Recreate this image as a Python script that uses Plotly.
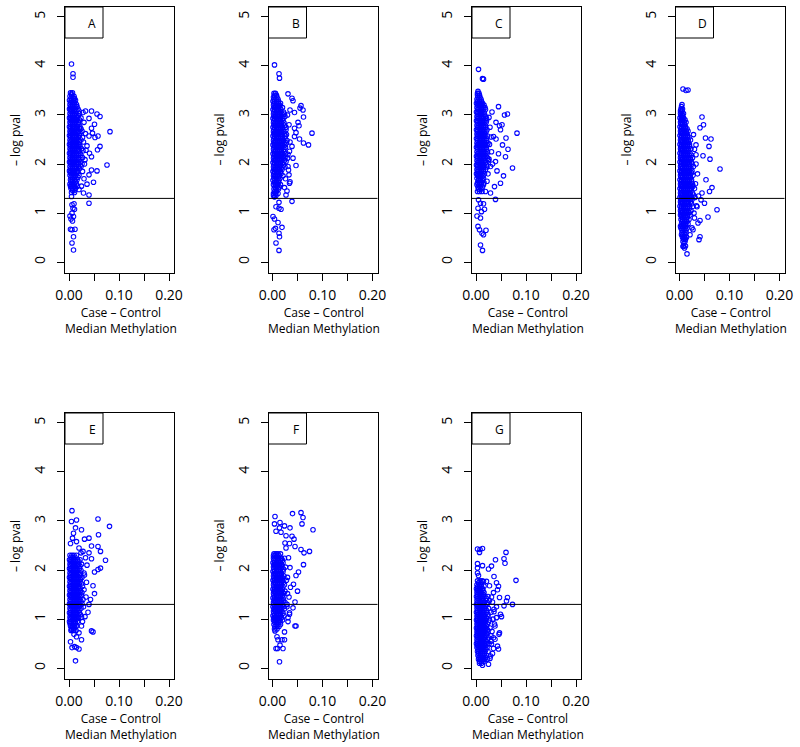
import plotly.graph_objects as go

# ---- data ----
panel_labels = ["A", "B", "C", "D", "E", "F", "G"]

# scattered points (outside the dense core)
a_out_x = [0.005, 0.008, 0.008, 0.033, 0.045, 0.056, 0.062, 0.051, 0.040, 0.082,
           0.045, 0.047, 0.058, 0.052, 0.040, 0.036, 0.062, 0.057, 0.041, 0.045,
           0.032, 0.076, 0.045, 0.056, 0.040, 0.049, 0.036, 0.029, 0.040, 0.040,
           0.005, 0.006, 0.010, 0.008, 0.011, 0.006, 0.009, 0.002, 0.004, 0.007,
           0.003, 0.006, 0.012, 0.009, 0.006, 0.009,
           0.028, 0.030, 0.033, 0.029, 0.034, 0.031, 0.027, 0.030, 0.025, 0.020]
a_out_y = [4.04, 3.84, 3.77, 3.08, 3.08, 3.02, 2.97, 2.81, 2.93, 2.66,
           2.73, 2.63, 2.57, 2.54, 2.57, 2.37, 2.36, 2.29, 2.22, 2.15,
           2.09, 1.98, 1.88, 1.86, 1.78, 1.63, 1.59, 1.41, 1.37, 1.20,
           1.34, 1.17, 1.19, 1.10, 1.08, 1.00, 0.93, 0.94, 0.88, 0.84,
           0.67, 0.66, 0.67, 0.52, 0.39, 0.25,
           3.05, 2.85, 2.62, 2.45, 2.28, 2.00, 1.85, 1.70, 1.55, 1.48]

b_out_x = [0.004, 0.013, 0.014, 0.031, 0.039, 0.041, 0.035, 0.044, 0.057, 0.055,
           0.061, 0.062, 0.051, 0.053, 0.079, 0.044, 0.047, 0.054, 0.062, 0.072,
           0.044, 0.039, 0.034, 0.041, 0.047, 0.031, 0.033, 0.035, 0.034, 0.027,
           0.039, 0.004, 0.007, 0.013, 0.017, 0.013, 0.001, 0.004, 0.011, 0.006,
           0.019, 0.003, 0.013, 0.014, 0.007, 0.013,
           0.030, 0.033, 0.028, 0.035, 0.031, 0.027, 0.032, 0.026, 0.024, 0.029]
b_out_y = [4.02, 3.84, 3.75, 3.43, 3.34, 3.29, 3.10, 3.05, 3.19, 3.14,
           3.10, 2.96, 2.85, 2.78, 2.63, 2.73, 2.64, 2.51, 2.43, 2.39,
           2.56, 2.36, 2.26, 2.12, 1.97, 1.95, 1.78, 1.64, 1.61, 1.37,
           1.24, 1.34, 1.13, 1.10, 1.08, 1.22, 0.93, 0.88, 0.81, 0.69,
           0.71, 0.66, 0.59, 0.52, 0.39, 0.24,
           3.00, 2.80, 2.60, 2.45, 2.20, 2.05, 1.88, 1.70, 1.52, 1.45]

c_out_x = [0.005, 0.013, 0.015, 0.045, 0.057, 0.063, 0.032, 0.040, 0.047, 0.052,
           0.082, 0.049, 0.035, 0.040, 0.060, 0.053, 0.064, 0.045, 0.059, 0.073,
           0.055, 0.049, 0.039, 0.042, 0.037, 0.039, 0.029, 0.005, 0.009, 0.015,
           0.017, 0.004, 0.011, 0.002, 0.009, 0.004, 0.007, 0.020, 0.012, 0.015,
           0.009, 0.013,
           0.026, 0.028, 0.030, 0.027, 0.031, 0.026, 0.029, 0.024, 0.022, 0.033]
c_out_y = [3.93, 3.74, 3.73, 3.17, 3.00, 3.02, 3.06, 2.85, 2.78, 2.80,
           2.63, 2.70, 2.56, 2.51, 2.53, 2.39, 2.30, 2.21, 2.15, 1.92,
           1.76, 1.61, 2.05, 1.86, 1.54, 1.28, 1.41, 1.27, 1.20, 1.19,
           1.08, 1.10, 1.03, 0.94, 0.90, 0.73, 0.66, 0.65, 0.59, 0.56,
           0.35, 0.24,
           2.95, 2.75, 2.55, 2.40, 2.25, 2.10, 1.95, 1.80, 1.65, 2.00]

d_out_x = [0.007, 0.013, 0.017, 0.045, 0.048, 0.041, 0.052, 0.063, 0.033, 0.059,
           0.047, 0.033, 0.061, 0.081, 0.053, 0.065, 0.060, 0.045, 0.075, 0.057,
           0.041, 0.041, 0.039, 0.043, 0.050, 0.035, 0.030, 0.027, 0.021, 0.007,
           0.015, 0.010, 0.004, 0.002,
           0.030, 0.033, 0.036, 0.032, 0.038, 0.034, 0.029, 0.037, 0.025, 0.028]
d_out_y = [3.53, 3.50, 3.51, 2.96, 2.80, 2.74, 2.53, 2.51, 2.39, 2.36,
           2.17, 2.19, 2.10, 1.90, 1.68, 1.52, 1.44, 1.41, 1.07, 0.92,
           0.85, 0.52, 0.46, 1.27, 1.20, 1.13, 0.90, 0.66, 0.56, 0.32,
           0.17, 0.29, 0.56, 0.73,
           2.30, 2.00, 1.80, 1.60, 1.35, 1.15, 1.00, 0.80, 0.70, 2.60]

e_out_x = [0.006, 0.005, 0.015, 0.058, 0.081, 0.009, 0.013, 0.025, 0.003, 0.007,
           0.015, 0.031, 0.040, 0.059, 0.045, 0.058, 0.063, 0.073, 0.020, 0.028,
           0.040, 0.045, 0.051, 0.058, 0.063, 0.048, 0.051, 0.043, 0.040, 0.038,
           0.045, 0.048, 0.025, 0.020, 0.015, 0.005, 0.003, 0.006, 0.011, 0.020,
           0.025, 0.013, 0.015, 0.010,
           0.033, 0.036, 0.031, 0.035, 0.030, 0.034, 0.029, 0.032, 0.027, 0.024]
e_out_y = [3.21, 2.99, 3.02, 3.04, 2.89, 2.75, 2.86, 2.82, 2.54, 2.65,
           2.58, 2.63, 2.65, 2.72, 2.49, 2.48, 2.38, 2.20, 2.45, 2.38,
           2.35, 2.23, 1.96, 2.01, 2.04, 1.68, 1.52, 1.40, 1.30, 1.14,
           0.76, 0.74, 0.86, 0.72, 0.64, 0.79, 0.54, 0.42, 0.44, 0.39,
           0.58, 0.15, 0.42, 0.69,
           2.25, 2.10, 1.90, 1.75, 1.60, 1.45, 1.25, 1.05, 0.95, 2.35]

f_out_x = [0.005, 0.004, 0.015, 0.024, 0.014, 0.007, 0.017, 0.035, 0.040, 0.057,
           0.061, 0.059, 0.081, 0.027, 0.039, 0.043, 0.034, 0.045, 0.057, 0.063,
           0.074, 0.062, 0.052, 0.047, 0.050, 0.042, 0.045, 0.041, 0.045, 0.047,
           0.024, 0.005, 0.009, 0.011, 0.019, 0.024, 0.015, 0.007, 0.010, 0.021,
           0.014, 0.031, 0.034,
           0.032, 0.035, 0.030, 0.036, 0.033, 0.029, 0.034, 0.031, 0.027, 0.025]
f_out_y = [3.09, 2.94, 2.97, 2.90, 2.86, 2.79, 2.77, 2.86, 3.15, 3.17,
           3.07, 2.94, 2.82, 2.70, 2.69, 2.63, 2.54, 2.48, 2.42, 2.35,
           2.38, 2.11, 1.96, 1.89, 1.57, 1.71, 1.35, 1.23, 0.86, 0.86,
           0.74, 0.76, 0.64, 0.58, 0.58, 0.58, 0.47, 0.40, 0.40, 0.40,
           0.13, 1.03, 1.13,
           2.25, 2.05, 1.85, 1.65, 1.45, 1.30, 1.10, 0.95, 2.45, 2.55]

g_out_x = [0.003, 0.008, 0.007, 0.013, 0.060, 0.056, 0.058, 0.039, 0.031, 0.025,
           0.003, 0.013, 0.003, 0.003, 0.005, 0.036, 0.080, 0.015, 0.021, 0.041,
           0.045, 0.043, 0.016, 0.027, 0.035, 0.031, 0.047, 0.063, 0.061, 0.073,
           0.056, 0.041, 0.049, 0.051, 0.041, 0.038, 0.047, 0.046, 0.038, 0.043,
           0.045, 0.035, 0.031, 0.025, 0.013, 0.028, 0.023,
           0.033, 0.036, 0.034, 0.037, 0.032, 0.035, 0.030, 0.033, 0.029, 0.036]
g_out_y = [2.43, 2.42, 2.36, 2.44, 2.36, 2.23, 2.14, 2.21, 2.08, 2.02,
           2.13, 2.09, 2.04, 1.94, 1.89, 1.87, 1.79, 1.77, 1.77, 1.74,
           1.67, 1.60, 1.67, 1.68, 1.54, 1.45, 1.44, 1.44, 1.37, 1.30,
           1.27, 1.25, 1.10, 1.05, 1.03, 0.86, 0.72, 0.69, 0.59, 0.45,
           0.39, 0.40, 0.49, 0.08, 0.06, 0.20, 0.18,
           1.35, 1.20, 1.00, 0.90, 0.75, 0.62, 0.55, 0.30, 0.25, 1.15]

# dense core, read row by row: one y level, then the x values seen at that level
a_core_y = [3.45, 3.42, 3.38, 3.34, 3.30, 3.26, 3.21, 3.17, 3.12, 3.08, 3.03, 2.99,
            2.94, 2.90, 2.85, 2.81, 2.76, 2.72, 2.67, 2.63, 2.58, 2.54, 2.49, 2.45,
            2.40, 2.36, 2.31, 2.27, 2.22, 2.18, 2.13, 2.09, 2.04, 2.00, 1.95, 1.91,
            1.86, 1.82, 1.77, 1.73, 1.68, 1.64, 1.59, 1.55, 1.50, 1.46, 1.42]
a_core_x = [
    [0.003, 0.007], [0.005],
    [0.002, 0.006, 0.010], [0.004, 0.008, 0.011],
    [0.001, 0.005, 0.009, 0.013], [0.003, 0.007, 0.011],
    [0.002, 0.006, 0.010, 0.015], [0.003, 0.007, 0.012, 0.016],
    [0.001, 0.004, 0.008, 0.012, 0.018], [0.003, 0.006, 0.010, 0.014, 0.020],
    [0.002, 0.006, 0.010, 0.014, 0.021], [0.003, 0.007, 0.011, 0.016, 0.019],
    [0.001, 0.004, 0.008, 0.012, 0.016, 0.024], [0.003, 0.007, 0.011, 0.015, 0.021],
    [0.002, 0.006, 0.010, 0.014, 0.019], [0.003, 0.007, 0.011, 0.016, 0.020],
    [0.001, 0.004, 0.008, 0.012, 0.017, 0.022], [0.003, 0.007, 0.011, 0.015, 0.021, 0.024],
    [0.002, 0.006, 0.010, 0.014, 0.019, 0.026], [0.003, 0.007, 0.011, 0.016, 0.022],
    [0.001, 0.004, 0.008, 0.012, 0.016, 0.021], [0.003, 0.007, 0.011, 0.015, 0.019, 0.027],
    [0.002, 0.006, 0.010, 0.014, 0.018, 0.024], [0.003, 0.007, 0.011, 0.015, 0.021],
    [0.001, 0.004, 0.008, 0.012, 0.016, 0.020], [0.003, 0.007, 0.011, 0.015, 0.018, 0.022],
    [0.002, 0.006, 0.010, 0.014, 0.019, 0.025], [0.003, 0.007, 0.011, 0.016, 0.020, 0.028],
    [0.001, 0.004, 0.008, 0.012, 0.016, 0.022], [0.003, 0.007, 0.011, 0.015, 0.019, 0.024],
    [0.002, 0.006, 0.010, 0.014, 0.019, 0.027], [0.003, 0.007, 0.011, 0.016, 0.020],
    [0.001, 0.004, 0.008, 0.012, 0.016, 0.022], [0.003, 0.007, 0.011, 0.015, 0.019, 0.026],
    [0.002, 0.006, 0.010, 0.014, 0.019, 0.024], [0.003, 0.007, 0.011, 0.015, 0.021],
    [0.001, 0.004, 0.008, 0.012, 0.017], [0.003, 0.007, 0.011, 0.016],
    [0.002, 0.006, 0.010, 0.014, 0.020], [0.004, 0.008, 0.012, 0.018],
    [0.003, 0.007, 0.011, 0.016], [0.004, 0.008, 0.013],
    [0.002, 0.006, 0.010, 0.015], [0.003, 0.006, 0.011, 0.017],
    [0.004, 0.008, 0.013], [0.007, 0.010],
    [0.005, 0.011],
]

b_core_y = [3.44, 3.40, 3.36, 3.32, 3.28, 3.24, 3.20, 3.15, 3.11, 3.06, 3.02, 2.97,
            2.93, 2.88, 2.84, 2.79, 2.75, 2.70, 2.66, 2.61, 2.57, 2.52, 2.48, 2.43,
            2.39, 2.34, 2.30, 2.25, 2.21, 2.16, 2.12, 2.07, 2.03, 1.98, 1.94, 1.89,
            1.85, 1.80, 1.76, 1.71, 1.67, 1.62, 1.58, 1.53, 1.49, 1.44, 1.40, 1.36,
            1.33]
b_core_x = [
    [0.003, 0.006], [0.004, 0.008],
    [0.002, 0.005, 0.009], [0.003, 0.007, 0.011],
    [0.001, 0.004, 0.008, 0.012], [0.003, 0.008, 0.012, 0.016],
    [0.002, 0.006, 0.010, 0.014], [0.003, 0.006, 0.010, 0.015, 0.020],
    [0.001, 0.004, 0.008, 0.012, 0.017], [0.003, 0.008, 0.012, 0.017, 0.022],
    [0.002, 0.006, 0.010, 0.014, 0.019, 0.024], [0.003, 0.006, 0.010, 0.014, 0.019, 0.025],
    [0.001, 0.004, 0.008, 0.012, 0.016, 0.021], [0.003, 0.008, 0.012, 0.016, 0.021],
    [0.002, 0.006, 0.010, 0.014, 0.018, 0.023], [0.003, 0.006, 0.010, 0.014, 0.018, 0.024],
    [0.001, 0.004, 0.008, 0.012, 0.016, 0.020, 0.027], [0.003, 0.008, 0.012, 0.016, 0.021, 0.027],
    [0.002, 0.006, 0.010, 0.014, 0.018, 0.023], [0.003, 0.006, 0.010, 0.014, 0.018, 0.024],
    [0.001, 0.004, 0.008, 0.012, 0.016, 0.020, 0.026], [0.003, 0.008, 0.012, 0.016, 0.020, 0.025],
    [0.002, 0.006, 0.010, 0.014, 0.018, 0.022, 0.029], [0.003, 0.006, 0.010, 0.014, 0.018, 0.023, 0.028],
    [0.001, 0.004, 0.008, 0.012, 0.016, 0.020, 0.025], [0.003, 0.008, 0.012, 0.016, 0.021, 0.026],
    [0.002, 0.006, 0.010, 0.014, 0.018, 0.023], [0.003, 0.006, 0.010, 0.014, 0.018, 0.023],
    [0.001, 0.004, 0.008, 0.012, 0.016, 0.020, 0.026], [0.003, 0.008, 0.012, 0.016, 0.021, 0.027],
    [0.002, 0.006, 0.010, 0.014, 0.018, 0.023, 0.030], [0.003, 0.006, 0.010, 0.014, 0.018, 0.024],
    [0.001, 0.004, 0.008, 0.012, 0.016, 0.021], [0.003, 0.008, 0.012, 0.016, 0.022],
    [0.002, 0.006, 0.010, 0.014, 0.019, 0.025], [0.003, 0.006, 0.010, 0.014, 0.019],
    [0.001, 0.004, 0.008, 0.012, 0.016], [0.003, 0.008, 0.012, 0.017],
    [0.002, 0.006, 0.010, 0.014, 0.021], [0.003, 0.007, 0.011, 0.015],
    [0.001, 0.005, 0.009, 0.013], [0.004, 0.008, 0.012],
    [0.002, 0.006, 0.010, 0.016], [0.005, 0.009, 0.014],
    [0.003, 0.007, 0.012], [0.004, 0.008],
    [0.002, 0.006, 0.011], [0.002, 0.007],
    [0.004],
]

c_core_y = [3.48, 3.44, 3.40, 3.36, 3.32, 3.28, 3.24, 3.20, 3.15, 3.11, 3.06, 3.02,
            2.97, 2.93, 2.88, 2.84, 2.79, 2.75, 2.70, 2.66, 2.61, 2.57, 2.52, 2.48,
            2.43, 2.39, 2.34, 2.30, 2.25, 2.21, 2.16, 2.12, 2.07, 2.03, 1.98, 1.94,
            1.89, 1.85, 1.80, 1.76, 1.71, 1.67, 1.62, 1.58, 1.53, 1.49, 1.44]
c_core_x = [
    [0.004], [0.003, 0.006],
    [0.003, 0.007], [0.004, 0.008],
    [0.002, 0.006, 0.010], [0.003, 0.007, 0.011],
    [0.001, 0.005, 0.009, 0.013], [0.003, 0.007, 0.011, 0.016],
    [0.002, 0.006, 0.010, 0.014, 0.018], [0.003, 0.006, 0.010, 0.014, 0.019],
    [0.001, 0.004, 0.008, 0.012, 0.016], [0.003, 0.008, 0.012, 0.017],
    [0.002, 0.006, 0.010, 0.014, 0.019], [0.003, 0.006, 0.010, 0.015, 0.021],
    [0.001, 0.004, 0.008, 0.012, 0.016, 0.021], [0.003, 0.008, 0.012, 0.016, 0.020],
    [0.002, 0.006, 0.010, 0.014, 0.018], [0.003, 0.006, 0.010, 0.015, 0.019],
    [0.001, 0.004, 0.008, 0.012, 0.016, 0.022], [0.003, 0.008, 0.012, 0.016, 0.020],
    [0.002, 0.006, 0.010, 0.014, 0.018], [0.003, 0.006, 0.010, 0.014, 0.018, 0.023],
    [0.001, 0.004, 0.008, 0.012, 0.016, 0.020], [0.003, 0.008, 0.012, 0.016, 0.021],
    [0.002, 0.006, 0.010, 0.014, 0.018, 0.024], [0.003, 0.006, 0.010, 0.014, 0.018, 0.022],
    [0.001, 0.004, 0.008, 0.012, 0.016, 0.020], [0.003, 0.008, 0.012, 0.016, 0.021],
    [0.002, 0.006, 0.010, 0.014, 0.018, 0.023], [0.003, 0.006, 0.010, 0.014, 0.018, 0.022],
    [0.001, 0.004, 0.008, 0.012, 0.016, 0.020], [0.003, 0.008, 0.012, 0.016, 0.023],
    [0.002, 0.006, 0.010, 0.014, 0.018, 0.025], [0.003, 0.006, 0.010, 0.014, 0.019],
    [0.001, 0.004, 0.008, 0.012, 0.016, 0.021], [0.003, 0.008, 0.012, 0.016, 0.022],
    [0.002, 0.006, 0.010, 0.014, 0.019], [0.003, 0.006, 0.010, 0.015],
    [0.001, 0.004, 0.008, 0.012, 0.017], [0.003, 0.006, 0.010, 0.014],
    [0.002, 0.006, 0.010, 0.015], [0.005, 0.009, 0.013],
    [0.003, 0.007, 0.011, 0.016], [0.002, 0.006, 0.010, 0.015],
    [0.004, 0.008, 0.013], [0.005, 0.010],
    [0.003, 0.007, 0.012, 0.019],
]

d_core_y = [3.21, 3.17, 3.12, 3.08, 3.03, 2.99, 2.94, 2.90, 2.85, 2.81, 2.76, 2.72,
            2.67, 2.63, 2.58, 2.54, 2.49, 2.45, 2.40, 2.36, 2.31, 2.27, 2.22, 2.18,
            2.13, 2.09, 2.04, 2.00, 1.95, 1.91, 1.86, 1.82, 1.77, 1.73, 1.68, 1.64,
            1.59, 1.55, 1.50, 1.46, 1.41, 1.37, 1.32, 1.28, 1.23, 1.19, 1.14, 1.10,
            1.05, 1.01, 0.96, 0.92, 0.87, 0.83, 0.78, 0.74, 0.69, 0.65, 0.60, 0.56,
            0.51, 0.47, 0.42, 0.38, 0.33]
d_core_x = [
    [0.005], [0.004],
    [0.003, 0.006], [0.002, 0.005],
    [0.002, 0.005, 0.008], [0.003, 0.006],
    [0.001, 0.004, 0.008], [0.003, 0.006, 0.011],
    [0.002, 0.005, 0.009, 0.013], [0.003, 0.006, 0.010],
    [0.001, 0.004, 0.008, 0.012], [0.003, 0.007, 0.011, 0.015],
    [0.002, 0.005, 0.009, 0.013, 0.017], [0.003, 0.006, 0.010, 0.014],
    [0.001, 0.004, 0.008, 0.012, 0.016], [0.003, 0.007, 0.011, 0.015, 0.019],
    [0.002, 0.005, 0.009, 0.013, 0.017, 0.022], [0.003, 0.006, 0.010, 0.014, 0.018],
    [0.001, 0.004, 0.008, 0.012, 0.016, 0.020], [0.003, 0.007, 0.011, 0.015, 0.020],
    [0.002, 0.005, 0.009, 0.013, 0.017, 0.023], [0.003, 0.006, 0.010, 0.014, 0.018],
    [0.001, 0.004, 0.008, 0.012, 0.016, 0.021], [0.003, 0.007, 0.011, 0.015, 0.019, 0.024],
    [0.002, 0.005, 0.009, 0.013, 0.017, 0.021, 0.026], [0.003, 0.006, 0.010, 0.014, 0.018, 0.022],
    [0.001, 0.004, 0.008, 0.012, 0.016, 0.020, 0.024], [0.003, 0.007, 0.011, 0.015, 0.019, 0.025],
    [0.002, 0.005, 0.009, 0.013, 0.017, 0.021, 0.028], [0.003, 0.006, 0.010, 0.014, 0.018, 0.023],
    [0.001, 0.004, 0.008, 0.012, 0.016, 0.020, 0.025], [0.003, 0.007, 0.011, 0.015, 0.019, 0.024],
    [0.002, 0.005, 0.009, 0.013, 0.017, 0.021, 0.027], [0.003, 0.006, 0.010, 0.014, 0.018, 0.022],
    [0.001, 0.004, 0.008, 0.012, 0.016, 0.020, 0.024], [0.003, 0.007, 0.011, 0.015, 0.019, 0.024],
    [0.002, 0.005, 0.009, 0.013, 0.017, 0.021, 0.026], [0.003, 0.006, 0.010, 0.014, 0.018, 0.022, 0.027],
    [0.001, 0.004, 0.008, 0.012, 0.016, 0.020, 0.024, 0.030], [0.003, 0.007, 0.011, 0.015, 0.019, 0.023],
    [0.002, 0.005, 0.009, 0.013, 0.017, 0.021, 0.026], [0.003, 0.006, 0.010, 0.014, 0.018, 0.022, 0.028],
    [0.001, 0.004, 0.008, 0.012, 0.016, 0.020, 0.024, 0.031], [0.003, 0.007, 0.011, 0.015, 0.019, 0.025],
    [0.002, 0.005, 0.009, 0.013, 0.017, 0.022], [0.003, 0.006, 0.010, 0.014, 0.018, 0.024],
    [0.001, 0.004, 0.008, 0.012, 0.016, 0.020, 0.027], [0.003, 0.007, 0.011, 0.015, 0.020],
    [0.002, 0.005, 0.009, 0.013, 0.017, 0.023], [0.003, 0.006, 0.010, 0.014, 0.019],
    [0.002, 0.005, 0.008, 0.012, 0.016, 0.021], [0.004, 0.007, 0.011, 0.016],
    [0.003, 0.006, 0.010, 0.014, 0.019], [0.005, 0.009, 0.013, 0.015],
    [0.004, 0.008, 0.012, 0.017], [0.005, 0.009, 0.013],
    [0.003, 0.007, 0.011, 0.015], [0.005, 0.009, 0.013],
    [0.005, 0.009, 0.013], [0.007, 0.011],
    [0.006, 0.010, 0.014], [0.008, 0.012],
    [0.007, 0.011], [0.009],
    [0.008, 0.012],
]

e_core_y = [2.30, 2.26, 2.21, 2.17, 2.12, 2.08, 2.03, 1.99, 1.94, 1.90, 1.85, 1.81,
            1.76, 1.72, 1.67, 1.63, 1.58, 1.54, 1.49, 1.45, 1.40, 1.36, 1.31, 1.27,
            1.22, 1.18, 1.13, 1.09, 1.04, 1.00, 0.95, 0.91, 0.86, 0.82, 0.77]
e_core_x = [
    [0.002, 0.006, 0.010, 0.015], [0.004, 0.008, 0.012],
    [0.001, 0.004, 0.008, 0.012, 0.017, 0.022], [0.003, 0.006, 0.010, 0.014, 0.020],
    [0.002, 0.006, 0.010, 0.014, 0.019, 0.025], [0.003, 0.008, 0.012, 0.016, 0.022],
    [0.001, 0.004, 0.008, 0.012, 0.016, 0.021], [0.003, 0.006, 0.010, 0.014, 0.018, 0.024],
    [0.002, 0.006, 0.010, 0.014, 0.018, 0.023, 0.030], [0.003, 0.008, 0.012, 0.016, 0.021],
    [0.001, 0.004, 0.008, 0.012, 0.016, 0.020, 0.026], [0.003, 0.006, 0.010, 0.014, 0.018, 0.023],
    [0.002, 0.006, 0.010, 0.014, 0.018, 0.022], [0.003, 0.008, 0.012, 0.016, 0.020, 0.025],
    [0.001, 0.004, 0.008, 0.012, 0.016, 0.020, 0.027], [0.003, 0.006, 0.010, 0.014, 0.018, 0.022],
    [0.002, 0.006, 0.010, 0.014, 0.018, 0.023], [0.003, 0.008, 0.012, 0.016, 0.020, 0.026],
    [0.001, 0.004, 0.008, 0.012, 0.016, 0.020, 0.025], [0.003, 0.006, 0.010, 0.014, 0.018, 0.022],
    [0.002, 0.006, 0.010, 0.014, 0.018, 0.022, 0.028], [0.003, 0.008, 0.012, 0.016, 0.020, 0.024],
    [0.001, 0.004, 0.008, 0.012, 0.016, 0.020, 0.026], [0.003, 0.006, 0.010, 0.014, 0.018, 0.022],
    [0.002, 0.006, 0.010, 0.014, 0.018, 0.024], [0.003, 0.008, 0.012, 0.016, 0.020],
    [0.001, 0.004, 0.008, 0.012, 0.016, 0.021], [0.003, 0.006, 0.010, 0.014, 0.018, 0.023],
    [0.002, 0.006, 0.010, 0.014, 0.019, 0.025], [0.003, 0.008, 0.012, 0.015],
    [0.001, 0.004, 0.008, 0.012, 0.017], [0.002, 0.006, 0.010, 0.013],
    [0.003, 0.007, 0.011, 0.015], [0.005, 0.009, 0.012],
    [0.004, 0.009, 0.014],
]

f_core_y = [2.33, 2.29, 2.24, 2.20, 2.15, 2.11, 2.06, 2.02, 1.97, 1.93, 1.88, 1.84,
            1.79, 1.75, 1.70, 1.66, 1.61, 1.57, 1.52, 1.48, 1.43, 1.39, 1.34, 1.30,
            1.25, 1.21, 1.16, 1.12, 1.07, 1.03, 0.98, 0.94, 0.89, 0.85, 0.80]
f_core_x = [
    [0.003, 0.007, 0.011, 0.016], [0.002, 0.005, 0.009, 0.013],
    [0.002, 0.005, 0.009, 0.013, 0.018, 0.024], [0.003, 0.007, 0.011, 0.015, 0.020],
    [0.001, 0.004, 0.008, 0.012, 0.016, 0.021], [0.003, 0.006, 0.010, 0.014, 0.018],
    [0.002, 0.006, 0.010, 0.014, 0.019, 0.026], [0.003, 0.008, 0.012, 0.016, 0.022],
    [0.001, 0.004, 0.008, 0.012, 0.016, 0.021], [0.003, 0.006, 0.010, 0.014, 0.018],
    [0.002, 0.006, 0.010, 0.014, 0.018, 0.023], [0.003, 0.008, 0.012, 0.016, 0.020],
    [0.001, 0.004, 0.008, 0.012, 0.016, 0.020, 0.028], [0.003, 0.006, 0.010, 0.014, 0.018, 0.022],
    [0.002, 0.006, 0.010, 0.014, 0.018, 0.024], [0.003, 0.008, 0.012, 0.016, 0.021],
    [0.001, 0.004, 0.008, 0.012, 0.016, 0.020], [0.003, 0.006, 0.010, 0.014, 0.018, 0.025],
    [0.002, 0.006, 0.010, 0.014, 0.018, 0.023, 0.030], [0.003, 0.008, 0.012, 0.016, 0.020],
    [0.001, 0.004, 0.008, 0.012, 0.016, 0.021], [0.003, 0.006, 0.010, 0.014, 0.018, 0.022],
    [0.002, 0.006, 0.010, 0.014, 0.018, 0.025], [0.003, 0.008, 0.012, 0.016, 0.020],
    [0.001, 0.004, 0.008, 0.012, 0.016, 0.021, 0.029], [0.003, 0.006, 0.010, 0.014, 0.018, 0.024],
    [0.002, 0.006, 0.010, 0.014, 0.019], [0.003, 0.008, 0.012, 0.016, 0.021],
    [0.001, 0.004, 0.008, 0.012, 0.016, 0.023], [0.003, 0.006, 0.010, 0.014, 0.018],
    [0.002, 0.006, 0.010, 0.014, 0.020], [0.004, 0.008, 0.012, 0.016],
    [0.003, 0.007, 0.011, 0.016], [0.005, 0.009, 0.013],
    [0.004, 0.009],
]

g_core_y = [1.78, 1.74, 1.70, 1.66, 1.62, 1.58, 1.54, 1.50, 1.46, 1.42, 1.38, 1.34,
            1.30, 1.26, 1.22, 1.18, 1.14, 1.10, 1.06, 1.02, 0.98, 0.94, 0.90, 0.86,
            0.82, 0.78, 0.74, 0.70, 0.66, 0.62, 0.58, 0.54, 0.50, 0.46, 0.42, 0.38,
            0.34, 0.30, 0.26, 0.22, 0.18, 0.14, 0.10]
g_core_x = [
    [0.003, 0.008, 0.012], [0.005, 0.010],
    [0.002, 0.006, 0.010], [0.003, 0.007, 0.011],
    [0.001, 0.004, 0.008, 0.013], [0.003, 0.006, 0.010, 0.014],
    [0.002, 0.006, 0.010, 0.016], [0.003, 0.008, 0.012, 0.015],
    [0.001, 0.004, 0.008, 0.012, 0.018, 0.024], [0.003, 0.006, 0.010, 0.014, 0.021],
    [0.002, 0.006, 0.010, 0.014, 0.020, 0.027], [0.003, 0.008, 0.012, 0.017, 0.023],
    [0.001, 0.004, 0.008, 0.012, 0.016, 0.022], [0.003, 0.006, 0.010, 0.014, 0.019],
    [0.002, 0.006, 0.010, 0.014, 0.018, 0.025], [0.003, 0.008, 0.012, 0.016, 0.021],
    [0.001, 0.004, 0.008, 0.012, 0.016, 0.021, 0.030], [0.003, 0.006, 0.010, 0.014, 0.018, 0.024],
    [0.002, 0.006, 0.010, 0.014, 0.018, 0.024], [0.003, 0.008, 0.012, 0.016, 0.021],
    [0.001, 0.004, 0.008, 0.012, 0.016, 0.020, 0.027], [0.003, 0.006, 0.010, 0.014, 0.018, 0.025],
    [0.002, 0.006, 0.010, 0.014, 0.018, 0.023], [0.003, 0.008, 0.012, 0.016, 0.021],
    [0.001, 0.004, 0.008, 0.012, 0.016, 0.020, 0.028], [0.003, 0.006, 0.010, 0.014, 0.018, 0.023],
    [0.002, 0.006, 0.010, 0.014, 0.018, 0.024], [0.003, 0.008, 0.012, 0.016, 0.021],
    [0.001, 0.004, 0.008, 0.012, 0.016, 0.020, 0.030], [0.003, 0.006, 0.010, 0.014, 0.018, 0.025],
    [0.002, 0.006, 0.010, 0.014, 0.018, 0.023], [0.003, 0.008, 0.012, 0.016, 0.021],
    [0.001, 0.004, 0.008, 0.012, 0.016, 0.020, 0.026], [0.003, 0.006, 0.010, 0.014, 0.018],
    [0.002, 0.006, 0.010, 0.014, 0.018, 0.022], [0.004, 0.008, 0.012, 0.016, 0.020],
    [0.003, 0.006, 0.010, 0.014, 0.018, 0.024], [0.005, 0.009, 0.013, 0.017],
    [0.004, 0.008, 0.012, 0.016, 0.021], [0.006, 0.010, 0.015, 0.019],
    [0.005, 0.009, 0.013, 0.018], [0.007, 0.012, 0.016],
    [0.007, 0.011],
]

x_tickvals = [0.0, 0.05, 0.10, 0.15, 0.20]
x_ticktext = ["0.00", "", "0.10", "", "0.20"]
y_tickvals = [0, 1, 2, 3, 4, 5]
threshold = 1.3

panels = [
    (a_out_x, a_out_y, a_core_x, a_core_y),
    (b_out_x, b_out_y, b_core_x, b_core_y),
    (c_out_x, c_out_y, c_core_x, c_core_y),
    (d_out_x, d_out_y, d_core_x, d_core_y),
    (e_out_x, e_out_y, e_core_x, e_core_y),
    (f_out_x, f_out_y, f_core_x, f_core_y),
    (g_out_x, g_out_y, g_core_x, g_core_y),
]

# ---- layout geometry (pixels) ----
W, H = 800, 747
col_left = [65, 268.5, 472, 675.5]
box_w = 109
row_top = [7, 413]
box_h = 266

FONT = "Open Sans"
fig = go.Figure()
annotations = []
shapes = []

for i, (ox, oy, cx, cy) in enumerate(panels):
    r, c = divmod(i, 4)
    n = "" if i == 0 else str(i + 1)
    xs = list(ox)
    ys = list(oy)
    for yv, row in zip(cy, cx):
        xs.extend(row)
        ys.extend([yv] * len(row))

    fig.add_trace(go.Scatter(
        x=xs, y=ys, mode="markers",
        xaxis="x" + n, yaxis="y" + n,
        marker=dict(symbol="circle-open", size=4.5, color="#0000ff",
                    line=dict(width=1.1)),
        showlegend=False, hoverinfo="skip",
    ))

    left = col_left[c]
    top = row_top[r]
    xd = [left / W, (left + box_w) / W]
    yd = [1 - (top + box_h) / H, 1 - top / H]

    axis_common = dict(showline=True, linecolor="black", linewidth=1, mirror=True,
                       ticks="outside", ticklen=7, tickwidth=1, tickcolor="black",
                       showgrid=False, zeroline=False, fixedrange=True, automargin=False,
                       tickfont=dict(family=FONT, size=14, color="black"))
    fig.update_layout(**{
        "xaxis" + n: dict(domain=xd, range=[-0.008, 0.21], anchor="y" + n,
                          tickvals=x_tickvals, ticktext=x_ticktext,
                          ticklabelstandoff=2, **axis_common),
        "yaxis" + n: dict(domain=yd, range=[-0.22, 5.2], anchor="x" + n,
                          tickvals=y_tickvals, tickangle=-90,
                          ticklabelstandoff=6, **axis_common),
    })

    # legend-style label box
    shapes.append(dict(type="rect", xref="x" + n + " domain", yref="y" + n + " domain",
                       x0=0, x1=38 / box_w, y0=1 - 31 / box_h, y1=1,
                       line=dict(color="black", width=1)))
    annotations.append(dict(text=panel_labels[i], xref="x" + n + " domain",
                            yref="y" + n + " domain", x=27 / box_w, y=1 - 16 / box_h,
                            xanchor="center", yanchor="middle", showarrow=False,
                            font=dict(family=FONT, size=12, color="black")))
    # significance line
    shapes.append(dict(type="line", xref="x" + n + " domain", yref="y" + n,
                       x0=0, x1=1, y0=threshold, y1=threshold,
                       line=dict(color="black", width=1)))
    # axis titles
    annotations.append(dict(text="Case \u2013 Control<br>Median Methylation",
                            xref="paper", yref="paper",
                            x=(left + box_w / 2 + 1) / W, y=1 - (top + box_h + 47.5) / H,
                            xanchor="center", yanchor="middle", showarrow=False,
                            font=dict(family=FONT, size=12, color="black")))
    annotations.append(dict(text="\u2013 log pval", xref="paper", yref="paper",
                            x=(left - 50) / W, y=1 - (top + box_h / 2) / H,
                            xanchor="center", yanchor="middle",
                            textangle=-90, showarrow=False,
                            font=dict(family=FONT, size=12, color="black")))

fig.update_layout(
    width=W, height=H,
    margin=dict(l=0, r=0, t=0, b=0, autoexpand=False),
    plot_bgcolor="white", paper_bgcolor="white",
    annotations=annotations, shapes=shapes,
)

fig.write_html("out.html", config={"displayModeBar": False},
               post_script="document.body.style.margin = '0';")
